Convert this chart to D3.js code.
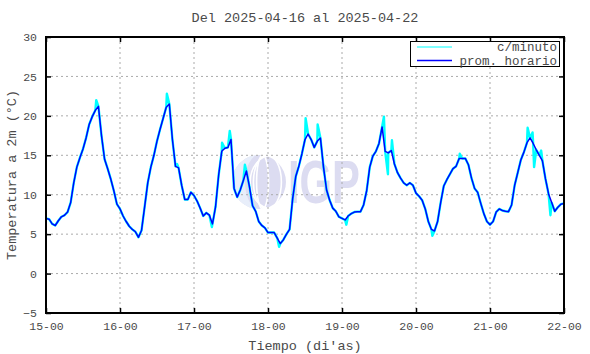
<!DOCTYPE html>
<html><head><meta charset="utf-8">
<script src="https://cdn.jsdelivr.net/npm/d3@7"></script>
<style>body{margin:0;background:#fff}svg{display:block}</style>
</head><body><svg id="c" width="590" height="354"></svg>
<script>
const title = "Del 2025-04-16 al 2025-04-22";
const xLabel = "Tiempo (di'as)";
const yLabel = "Temperatura a 2m (°C)";
const xTickLabels = ["15-00","16-00","17-00","18-00","19-00","20-00","21-00","22-00"];
const yTicks = [-5,0,5,10,15,20,25,30];
const legendLabels = ["c/minuto","prom. horario"];

// hourly averages (prom. horario), one value per hour, per day
const day15 = [7.0,6.9,6.3,6.1,6.7,7.2,7.4,7.8,9.0,11.5,13.5,14.7,15.8,17.2,18.9,19.9,20.7,21.2,17.5,14.5,13.3,12.0,10.5,8.8];
const day16 = [8.2,7.3,6.6,6.0,5.6,5.3,4.6,5.5,8.5,11.5,13.5,15.0,16.8,18.3,19.7,21.1,21.5,17.0,13.6,13.4,11.2,9.4,9.4,10.3];
const day17 = [9.9,9.2,8.3,7.3,7.7,7.4,6.3,8.5,12.5,15.5,15.9,16.0,17.0,10.8,9.7,10.6,11.8,13.0,11.0,8.6,7.9,6.6,6.1,5.8];
const day18 = [5.2,5.2,5.2,4.5,3.8,4.3,5.0,5.6,9.5,12.3,13.6,15.2,17.0,17.7,17.0,16.0,16.8,17.2,13.5,10.6,9.3,8.3,7.9,7.2];
const day19 = [7.0,6.8,7.3,7.6,7.8,7.85,7.85,8.7,10.5,13.5,14.9,15.5,16.5,18.6,15.5,15.3,15.6,13.9,12.8,12.1,11.5,11.2,11.5,11.2];
const day20 = [10.2,9.8,9.3,8.2,6.6,5.6,5.4,6.6,9.0,11.1,11.9,12.6,13.3,13.6,14.6,14.6,14.6,13.8,12.1,10.8,10.3,8.9,7.6,6.6];
const day21 = [6.2,6.6,7.8,8.2,8.0,7.9,7.85,8.7,11.2,12.8,14.4,15.4,16.6,17.2,16.5,15.7,15.0,14.3,12.0,10.1,9.0,7.9,8.4,8.8];
const day22 = [8.9];

// per-minute excursions seen in the c/minuto trace: [hours since 15-00, °C]
const minuteSpikes = [
  [16.3,22.0],[39.2,22.8],[42.5,13.9],[53.8,5.9],[57.1,16.6],[59.6,18.1],[64.5,13.8],
  [75.6,3.4],[84.2,19.7],[88.1,18.9],[97.4,6.2],[109.6,19.9],[110.9,12.6],[112.2,16.9],
  [125.3,4.8],[134.2,15.2],[156.2,18.5],[157.8,17.9],[158.3,13.5],[160.6,15.6],[163.6,7.4]
];

const hourly = [].concat(day15,day16,day17,day18,day19,day20,day21,day22);
const hourlyPts = hourly.map((v,i)=>[i,v]);
const minutePts = hourlyPts.concat(minuteSpikes).sort((a,b)=>a[0]-b[0]);

const svg = d3.select("#c");
const M = {l:46,r:564,t:37,b:313};
const x = d3.scaleLinear().domain([0,168]).range([M.l,M.r]);
const y = d3.scaleLinear().domain([-5,30]).range([M.b,M.t]);
const xTickVals = xTickLabels.map((d,i)=>i*24);
const FONT = "'Liberation Mono','Courier New',monospace";
const TXT = "#4a4a4a";

// watermark
const wm = svg.append("g");
wm.append("circle").attr("cx",259).attr("cy",182).attr("r",27).attr("fill","#dcdcf1");
wm.append("path").attr("d","M259,155 A27,27 0 0,0 259,209 A14,27 0 0,1 259,155Z").attr("fill","#e8eefa");
[[6,27],[14,27],[22,27]].forEach(([rx,ry])=>{
  wm.append("ellipse").attr("cx",259+rx*0.6).attr("cy",182).attr("rx",rx).attr("ry",ry)
    .attr("fill","none").attr("stroke","#fff").attr("stroke-width",1.6);
});
wm.append("text").attr("x",288).attr("y",203).attr("font-family","'Liberation Sans',Arial,sans-serif")
  .attr("font-weight","bold").attr("font-size",62).attr("fill","#dcdcf1")
  .attr("textLength",72).attr("lengthAdjust","spacingAndGlyphs").text("IGP");

// grid
svg.append("g").selectAll("line").data(xTickVals.slice(1,-1)).join("line")
  .attr("x1",d=>x(d)).attr("x2",d=>x(d)).attr("y1",M.t).attr("y2",M.b)
  .attr("stroke","#aaa").attr("stroke-width",1).attr("stroke-dasharray","2,3");
svg.append("g").selectAll("line").data(yTicks.slice(1,-1)).join("line")
  .attr("y1",d=>y(d)).attr("y2",d=>y(d)).attr("x1",M.l).attr("x2",M.r)
  .attr("stroke","#aaa").attr("stroke-width",1).attr("stroke-dasharray","2,3");

// data
const line = d3.line().x(d=>x(d[0])).y(d=>y(d[1]));
svg.append("path").datum(minutePts).attr("d",line).attr("fill","none")
  .attr("stroke","#00ffff").attr("stroke-width",2.4).attr("stroke-linejoin","round");
svg.append("path").datum(hourlyPts).attr("d",line).attr("fill","none")
  .attr("stroke","#0000ff").attr("stroke-width",1.5).attr("stroke-linejoin","round");

// axes
const axB = d3.axisBottom(x).tickValues(xTickVals).tickFormat((d,i)=>xTickLabels[i]).tickSize(-5).tickPadding(9);
const gb = svg.append("g").attr("transform",`translate(0,${M.b})`).call(axB);
const axT = d3.axisTop(x).tickValues(xTickVals).tickFormat("").tickSize(-5);
const gt = svg.append("g").attr("transform",`translate(0,${M.t})`).call(axT);
const axL = d3.axisLeft(y).tickValues(yTicks).tickSize(-5).tickPadding(9);
const gl = svg.append("g").attr("transform",`translate(${M.l},0)`).call(axL);
const axR = d3.axisRight(y).tickValues(yTicks).tickFormat("").tickSize(-5);
const gr = svg.append("g").attr("transform",`translate(${M.r},0)`).call(axR);
[gb,gt,gl,gr].forEach(g=>{
  g.select(".domain").remove();
  g.selectAll(".tick line").attr("stroke","#000").attr("stroke-width",1.5);
  g.selectAll("text").attr("font-family",FONT).attr("font-size",11.5).attr("fill",TXT);
});

// frame
svg.append("rect").attr("x",M.l).attr("y",M.t).attr("width",M.r-M.l).attr("height",M.b-M.t)
  .attr("fill","none").attr("stroke","#000").attr("stroke-width",2);

// legend
const lg = svg.append("g");
lg.append("rect").attr("x",410.5).attr("y",41.5).attr("width",149).attr("height",25)
  .attr("fill","#fff").attr("stroke","#000").attr("stroke-width",1);
const lcols = ["#00ffff","#0000ff"];
legendLabels.forEach((t,i)=>{
  lg.append("line").attr("x1",417).attr("x2",452).attr("y1",47+i*13.5).attr("y2",47+i*13.5)
    .attr("stroke",lcols[i]).attr("stroke-width",i?1.5:1);
  lg.append("text").attr("x",557).attr("y",51+i*13.5).attr("text-anchor","end")
    .attr("font-family",FONT).attr("font-size",12.5).attr("fill",TXT).text(t);
});

// titles
svg.append("text").attr("x",305).attr("y",22).attr("text-anchor","middle")
  .attr("font-family",FONT).attr("font-size",13.5).attr("fill",TXT).text(title);
svg.append("text").attr("x",305).attr("y",350).attr("text-anchor","middle")
  .attr("font-family",FONT).attr("font-size",13.5).attr("fill",TXT).text(xLabel);
svg.append("text").attr("transform","translate(16,175) rotate(-90)").attr("text-anchor","middle")
  .attr("font-family",FONT).attr("font-size",13.5).attr("fill",TXT).text(yLabel);
</script></body></html>
